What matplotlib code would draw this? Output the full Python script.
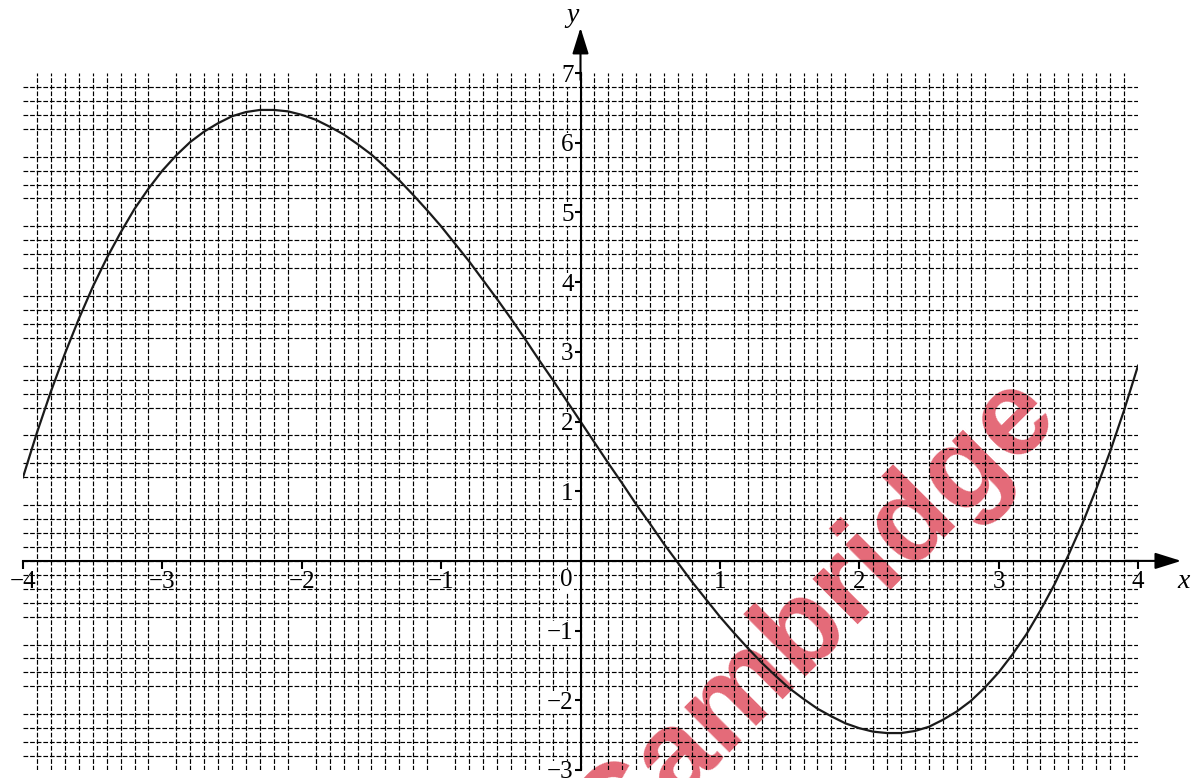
import numpy as np
import matplotlib
matplotlib.use('Agg')
import matplotlib.pyplot as plt

# valores (paso 0.1)
x_vals = [-4.0, -3.9, -3.8, -3.7, -3.6, -3.5, -3.4, -3.3, -3.2, -3.1,
          -3.0, -2.9, -2.8, -2.7, -2.6, -2.5, -2.4, -2.3, -2.2, -2.1,
          -2.0, -1.9, -1.8, -1.7, -1.6, -1.5, -1.4, -1.3, -1.2, -1.1,
          -1.0, -0.9, -0.8, -0.7, -0.6, -0.5, -0.4, -0.3, -0.2, -0.1,
          0.0, 0.1, 0.2, 0.3, 0.4, 0.5, 0.6, 0.7, 0.8, 0.9,
          1.0, 1.1, 1.2, 1.3, 1.4, 1.5, 1.6, 1.7, 1.8, 1.9,
          2.0, 2.1, 2.2, 2.3, 2.4, 2.5, 2.6, 2.7, 2.8, 2.9,
          3.0, 3.1, 3.2, 3.3, 3.4, 3.5, 3.6, 3.7, 3.8, 3.9, 4.0]
y_vals = [1.20, 1.84, 2.43, 2.97, 3.47, 3.93, 4.34, 4.71, 5.05, 5.34,
          5.60, 5.82, 6.01, 6.16, 6.28, 6.38, 6.44, 6.47, 6.47, 6.45,
          6.40, 6.33, 6.23, 6.12, 5.98, 5.83, 5.65, 5.46, 5.25, 5.03,
          4.80, 4.55, 4.30, 4.03, 3.76, 3.48, 3.19, 2.89, 2.60, 2.30,
          2.00, 1.70, 1.40, 1.11, 0.81, 0.53, 0.24, -0.03, -0.30, -0.55,
          -0.80, -1.03, -1.25, -1.46, -1.65, -1.83, -1.98, -2.12, -2.23, -2.33,
          -2.40, -2.45, -2.47, -2.47, -2.44, -2.38, -2.28, -2.16, -2.01, -1.82,
          -1.60, -1.34, -1.05, -0.71, -0.34, 0.08, 0.53, 1.03, 1.57, 2.16, 2.80]

x_ticks = [-4, -3, -2, -1, 1, 2, 3, 4]
y_ticks = [-3, -2, -1, 1, 2, 3, 4, 5, 6, 7]

plt.rcParams['font.family'] = 'Liberation Serif'

fig = plt.figure(figsize=(11.92, 7.78), dpi=100)
ax = fig.add_axes([23/1192, 8/778, 1115/1192, 697/778])
ax.set_xlim(-4, 4)
ax.set_ylim(-3, 7)

# marca de agua
ax.text(1.68, -0.83, 'Cambridge', fontsize=87, fontweight='bold', family='Liberation Sans',
        color='#e46a78', rotation=45, rotation_mode='anchor', ha='center', va='center',
        zorder=0.1, clip_on=False)

# cuadricula fina
ax.set_xticks(np.linspace(-4, 4, 81), minor=True)
ax.set_yticks(np.linspace(-3, 7, 51), minor=True)
ax.grid(which='minor', color='black', linewidth=0.85, linestyle=(0, (4, 1.6)))
ax.set_axisbelow(True)
ax.tick_params(which='minor', length=0)
for t in ax.xaxis.get_minor_ticks() + ax.yaxis.get_minor_ticks():
    t.gridline.set_clip_on(False)

ax.plot(x_vals, y_vals, color='#1a1a1a', linewidth=1.6, zorder=2, solid_joinstyle='round')

# ejes
for s in ['top', 'right']:
    ax.spines[s].set_visible(False)
ax.spines['bottom'].set_position(('data', 0))
ax.spines['left'].set_position(('data', 0))
ax.spines['bottom'].set_linewidth(1.5)
ax.spines['left'].set_linewidth(1.5)
ax.annotate('', xy=(4.31, 0), xytext=(3.9, 0), annotation_clip=False,
            arrowprops=dict(arrowstyle='-|>,head_length=0.8,head_width=0.25', color='black',
                            lw=1.5, mutation_scale=20, shrinkA=0, shrinkB=0))
ax.annotate('', xy=(0, 7.65), xytext=(0, 6.9), annotation_clip=False,
            arrowprops=dict(arrowstyle='-|>,head_length=0.8,head_width=0.25', color='black',
                            lw=1.5, mutation_scale=20, shrinkA=0, shrinkB=0))

ax.set_xticks(x_ticks)
ax.set_xticklabels([str(v).replace('-', '\u2212') for v in x_ticks])
ax.set_yticks(y_ticks)
ax.set_yticklabels([str(v).replace('-', '\u2212') for v in y_ticks])
ax.tick_params(axis='x', which='major', direction='out', length=5.5, width=1.5, pad=2, labelsize=18)
ax.tick_params(axis='y', which='major', direction='out', length=4, width=1.5, pad=1, labelsize=18)
for lab in ax.get_xticklabels() + ax.get_yticklabels():
    lab.set_bbox(dict(facecolor='white', edgecolor='none', pad=0.5))

ax.text(-0.1, -0.12, '0', fontsize=18, ha='center', va='top',
        bbox=dict(facecolor='white', edgecolor='none', pad=0.5))
ax.text(4.33, -0.12, 'x', fontsize=20, style='italic', ha='center', va='top', clip_on=False)
ax.text(-0.06, 7.65, 'y', fontsize=20, style='italic', ha='center', va='bottom', clip_on=False)

fig.savefig('out.png', dpi=100)
